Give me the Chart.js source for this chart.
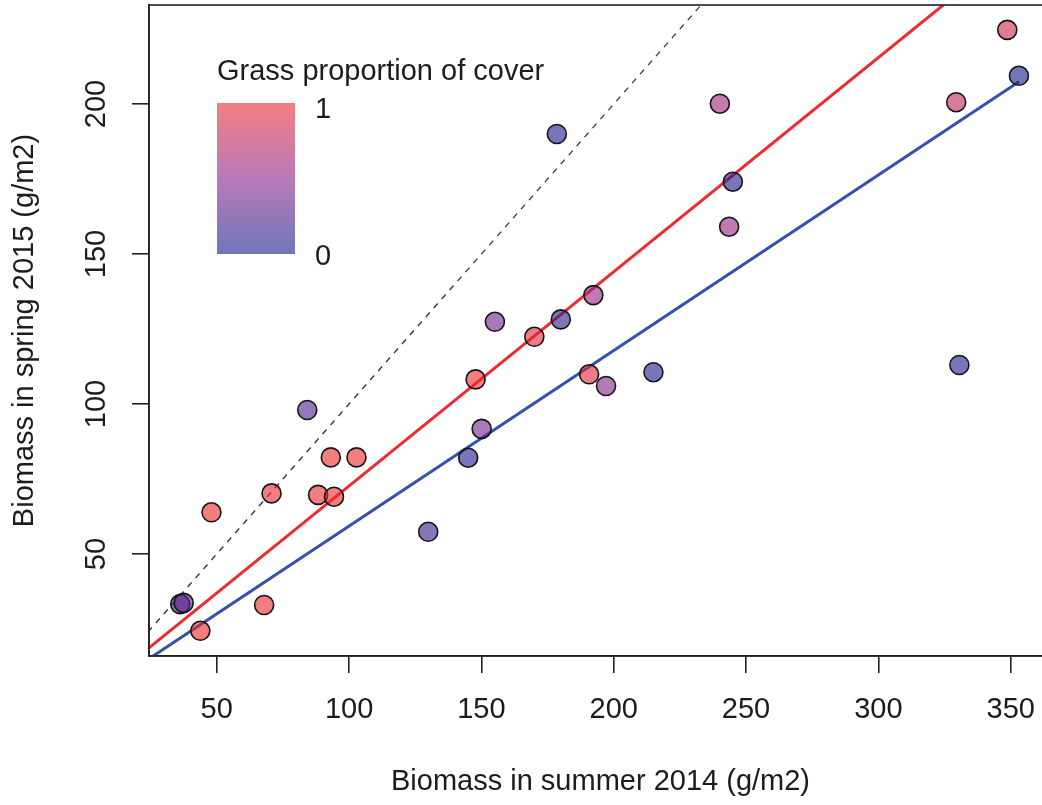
<!DOCTYPE html>
<html>
<head>
<meta charset="utf-8">
<script src="https://cdn.jsdelivr.net/npm/chart.js@4.4.1/dist/chart.umd.min.js"></script>
<style>
  html, body { margin: 0; padding: 0; overflow: hidden; background: #fff; }
  #frame { position: relative; width: 1042px; height: 805px; overflow: hidden; }
  #biomassChart { position: absolute; left: 0; top: 0; }
</style>
</head>
<body>
<div id="frame"><canvas id="biomassChart" width="1052" height="805"></canvas></div>
<script>
// biomass per plot
const summer2014 = [36.2, 37.5, 43.8, 67.9, 48.0, 70.7, 84.2, 88.3, 94.3, 93.1,
  102.8, 129.9, 145.0, 147.8, 150.1, 155.1, 170.0, 178.5, 180.0, 190.7,
  192.3, 197.1, 215.0, 240.1, 243.6, 245.0, 329.4, 330.6, 348.7, 353.1];
const spring2015 = [33.3, 33.7, 24.4, 33.0, 63.9, 70.2, 98.0, 69.7, 69.1, 82.2,
  82.2, 57.4, 82.1, 108.2, 91.7, 127.4, 122.4, 190.0, 128.2, 109.9,
  136.3, 106.0, 110.6, 200.1, 159.1, 174.1, 200.6, 113.0, 224.7, 209.4];
const grassCover = [0.15, 0.35, 1.0, 1.0, 1.0, 1.0, 0.25, 1.0, 1.0, 1.0,
  1.0, 0.15, 0.05, 1.0, 0.4, 0.4, 0.95, 0.05, 0.1, 0.95,
  0.55, 0.45, 0.05, 0.6, 0.55, 0.05, 0.75, 0.05, 0.85, 0.0];

// fitted lines (end points) and the 1:1 line
const fitX = [0, 353.1];
const redFitY = [1.3, 253.4];
const blueFitY = [0.8, 207.4];
const oneToOne = [0, 240];

const xTicks = [50, 100, 150, 200, 250, 300, 350];
const yTicks = [50, 100, 150, 200];
const xRange = [24.4, 365.6];
const yRange = [16, 233];

const xTitle = 'Biomass in summer 2014 (g/m2)';
const yTitle = 'Biomass in spring 2015 (g/m2)';
const legendTitle = 'Grass proportion of cover';
const legendLabels = ['1', '0'];

const FONT = '"Liberation Sans", Arial, sans-serif';
const INK = '#1c1c1c';

// colour ramp: 0 = blue, 1 = pink (as seen on white)
const rampStops = [[112, 118, 186], [185, 122, 185], [242, 126, 128]];
function rampRGB(g) {
  const t = g * 2;
  const i = Math.min(1, Math.floor(t));
  const f = t - i;
  return rampStops[i].map((c, k) => c + (rampStops[i + 1][k] - c) * f);
}
function pointFill(g, a) {
  const rgb = rampRGB(g).map(c => Math.round(Math.max(0, (c - 255 * (1 - a)) / a)));
  return `rgba(${rgb.join(',')},${a})`;
}

Chart.defaults.font.family = FONT;
Chart.defaults.color = INK;

const legendPlugin = {
  id: 'gradLegend',
  afterDraw(chart) {
    const ctx = chart.ctx;
    ctx.save();
    ctx.font = '29px ' + FONT;
    ctx.fillStyle = INK;
    ctx.textBaseline = 'alphabetic';
    ctx.fillText(legendTitle, 217, 80);
    const grad = ctx.createLinearGradient(0, 103, 0, 254);
    for (let i = 0; i <= 10; i++) {
      const rgb = rampRGB(1 - i / 10).map(Math.round);
      grad.addColorStop(i / 10, `rgb(${rgb.join(',')})`);
    }
    ctx.fillStyle = grad;
    ctx.fillRect(217, 103, 78, 151);
    ctx.fillStyle = INK;
    ctx.fillText(legendLabels[0], 315, 118);
    ctx.fillText(legendLabels[1], 315, 265);
    ctx.restore();
  }
};

const boxPlugin = {
  id: 'plotBox',
  afterDraw(chart) {
    const a = chart.chartArea;
    const ctx = chart.ctx;
    ctx.save();
    ctx.strokeStyle = '#222';
    ctx.lineWidth = 1.6;
    ctx.strokeRect(a.left, a.top, a.right - a.left, a.bottom - a.top);
    ctx.restore();
  }
};

function lineData(ys) {
  return fitX.map((x, i) => ({ x: x, y: ys[i] }));
}

const ctx = document.getElementById('biomassChart').getContext('2d');
new Chart(ctx, {
  type: 'scatter',
  data: {
    datasets: [
      {
        data: summer2014.map((x, i) => ({ x: x, y: spring2015[i] })),
        backgroundColor: grassCover.map(g => pointFill(g, 0.6)),
        borderColor: '#151515',
        borderWidth: 1.6,
        pointRadius: 9.5,
        order: 0
      },
      {
        data: lineData(redFitY),
        showLine: true,
        borderColor: '#ee2a2f',
        borderWidth: 3,
        pointRadius: 0,
        order: 1
      },
      {
        data: lineData(blueFitY),
        showLine: true,
        borderColor: '#3452a8',
        borderWidth: 3,
        pointRadius: 0,
        order: 1
      },
      {
        data: oneToOne.map(v => ({ x: v, y: v })),
        showLine: true,
        borderColor: '#333',
        borderWidth: 1.3,
        borderDash: [6, 6],
        pointRadius: 0,
        order: 2
      }
    ]
  },
  options: {
    responsive: false,
    animation: false,
    // canvas is 10px wider than the frame: the plot box runs past the right edge
    layout: { autoPadding: false, padding: { top: 5, left: 0, right: 0, bottom: 0 } },
    plugins: { legend: { display: false }, tooltip: { enabled: false } },
    scales: {
      x: {
        type: 'linear',
        position: 'bottom',
        min: xRange[0],
        max: xRange[1],
        afterBuildTicks: s => { s.ticks = xTicks.map(v => ({ value: v })); },
        afterFit: s => { s.height = 149; s.paddingLeft = 0; s.paddingRight = 0; s.paddingTop = 0; s.paddingBottom = 0; },
        grid: { drawOnChartArea: false, tickLength: 17, color: '#222', lineWidth: 1.6 },
        border: { display: true, color: '#222', width: 1.6 },
        ticks: { font: { size: 29 }, color: INK, padding: 19.6, maxRotation: 0, autoSkip: false },
        title: { display: true, text: xTitle, font: { size: 29 }, color: INK, padding: { top: 0, bottom: 5.6 } }
      },
      y: {
        type: 'linear',
        min: yRange[0],
        max: yRange[1],
        afterBuildTicks: s => { s.ticks = yTicks.map(v => ({ value: v })); },
        afterFit: s => { s.width = 149; s.paddingLeft = 0; s.paddingRight = 0; s.paddingTop = 0; s.paddingBottom = 0; },
        grid: { drawOnChartArea: false, tickLength: 17, color: '#222', lineWidth: 1.6 },
        border: { display: true, color: '#222', width: 1.6 },
        ticks: { font: { size: 29 }, color: INK, padding: 10.8, minRotation: 90, maxRotation: 90, crossAlign: 'center', autoSkip: false },
        title: { display: true, text: yTitle, font: { size: 29 }, color: INK, padding: { top: 7.6, bottom: 0 } }
      }
    }
  },
  plugins: [legendPlugin, boxPlugin]
});
</script>
</body>
</html>
